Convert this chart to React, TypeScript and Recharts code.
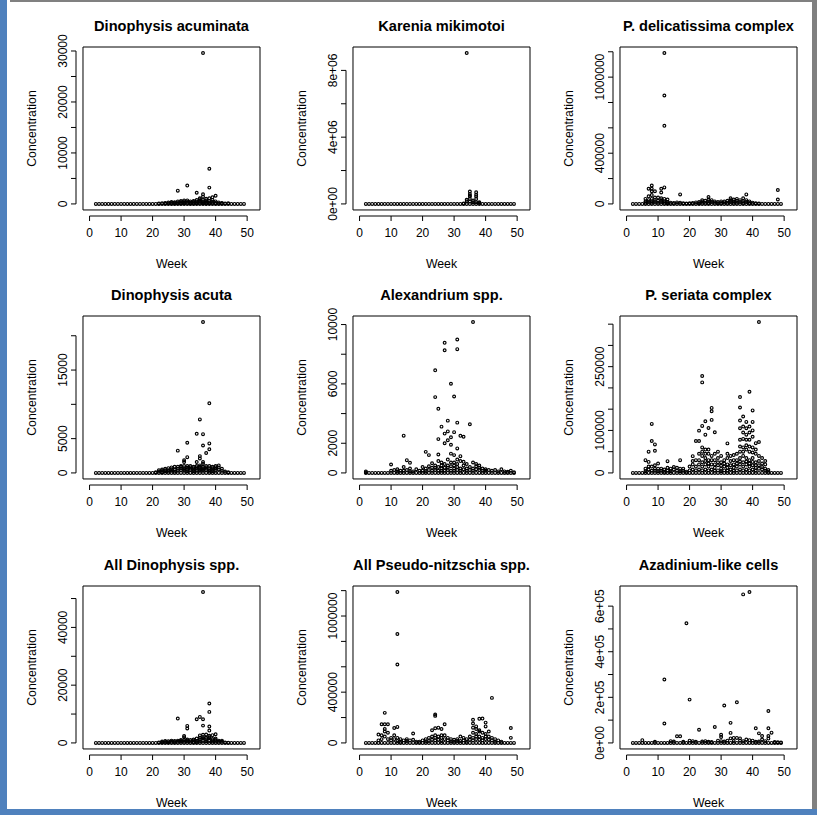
import React from "react";
import {
  ScatterChart,
  Scatter,
  XAxis,
  YAxis,
  ReferenceArea,
  ReferenceLine,
} from "recharts";

const FONT = "'Liberation Sans', Arial, sans-serif";

// every sampled week (2..49) has zero counts on record
const WEEKS = [
  2, 3, 4, 5, 6, 7, 8, 9, 10, 11, 12, 13, 14, 15, 16, 17, 18, 19, 20, 21, 22, 23, 24, 25,
  26, 27, 28, 29, 30, 31, 32, 33, 34, 35, 36, 37, 38, 39, 40, 41, 42, 43, 44, 45, 46, 47, 48, 49,
];
const X_TICKS = [0, 10, 20, 30, 40, 50];

const TITLES = [
  "Dinophysis acuminata",
  "Karenia mikimotoi",
  "P. delicatissima complex",
  "Dinophysis acuta",
  "Alexandrium spp.",
  "P. seriata complex",
  "All Dinophysis spp.",
  "All Pseudo-nitzschia spp.",
  "Azadinium-like cells",
];

const Y_TICKS = [
  [0, 5000, 10000, 15000, 20000, 25000, 30000],
  [0, 2e6, 4e6, 6e6, 8e6],
  [0, 200000, 400000, 600000, 800000, 1000000, 1200000],
  [0, 5000, 10000, 15000, 20000],
  [0, 2000, 4000, 6000, 8000, 10000],
  [0, 50000, 100000, 150000, 200000, 250000, 300000, 350000],
  [0, 10000, 20000, 30000, 40000, 50000],
  [0, 200000, 400000, 600000, 800000, 1000000, 1200000],
  [0, 1e5, 2e5, 3e5, 4e5, 5e5, 6e5],
];

// labels R kept after dropping the overlapping ones ("" = tick only)
const Y_LABELS = [
  ["0", "", "10000", "", "20000", "", "30000"],
  ["0e+00", "", "4e+06", "", "8e+06"],
  ["0", "", "400000", "", "", "1000000", ""],
  ["0", "5000", "", "15000", ""],
  ["0", "2000", "", "6000", "", "10000"],
  ["0", "", "100000", "", "", "250000", "", ""],
  ["0", "", "20000", "", "40000", ""],
  ["0", "", "400000", "", "", "1000000", ""],
  ["0e+00", "", "2e+05", "", "4e+05", "", "6e+05"],
];

// [week, concentration] for the non-zero samples
const acuminata: [number, number][] = [
  [36, 29600], [38, 6900], [38, 3200], [31, 3600], [28, 2600], [34, 2200], [36, 1900], [36, 1400],
  [40, 1600], [39, 1300], [38, 1100], [37, 1000], [35, 1100], [35, 900],
  [22, 100], [23, 150], [24, 200], [24, 80], [25, 300], [25, 150], [26, 250], [26, 400], [26, 100],
  [27, 200], [27, 350], [27, 100], [28, 300], [28, 500], [28, 150], [29, 400], [29, 200], [29, 600],
  [29, 100], [30, 300], [30, 500], [30, 150], [30, 700], [31, 400], [31, 700], [31, 200], [32, 300],
  [32, 500], [32, 200], [32, 100], [33, 400], [33, 600], [33, 250], [33, 100], [34, 500], [34, 800],
  [34, 300], [34, 150], [35, 600], [35, 400], [35, 200], [36, 800], [36, 500], [36, 300], [36, 150],
  [37, 700], [37, 400], [37, 250], [37, 100], [38, 600], [38, 300], [38, 150], [39, 800], [39, 400],
  [39, 200], [40, 500], [40, 200], [40, 100], [41, 300], [41, 100], [42, 200], [42, 80], [43, 100],
  [44, 150],
];

const karenia: [number, number][] = [
  [33, 30000], [34, 9040000], [34, 250000], [34, 150000], [35, 740000], [35, 600000], [35, 500000],
  [35, 440000], [35, 300000], [35, 150000], [36, 200000], [36, 100000], [37, 700000], [37, 550000],
  [37, 450000], [37, 300000], [37, 100000], [38, 100000], [38, 50000],
];

const delicatissima: [number, number][] = [
  [12, 1190000], [12, 855000], [12, 616000], [8, 145000], [8, 120000], [7, 120000], [11, 120000],
  [12, 130000], [9, 100000], [11, 90000], [17, 75000], [38, 75000], [48, 110000], [48, 35000],
  [26, 55000], [8, 100000], [8, 70000],
  [6, 20000], [6, 40000], [6, 10000], [7, 30000], [7, 60000], [7, 15000], [8, 40000], [8, 20000],
  [8, 10000], [9, 30000], [9, 15000], [9, 50000], [10, 50000], [10, 25000], [10, 10000], [11, 30000],
  [11, 15000], [11, 45000], [12, 40000], [12, 20000], [12, 10000], [13, 35000], [13, 15000],
  [13, 5000], [14, 10000], [15, 8000], [16, 12000], [17, 10000], [18, 5000], [19, 3000], [20, 5000],
  [21, 8000], [22, 12000], [23, 15000], [23, 5000], [24, 30000], [24, 20000], [24, 10000],
  [25, 25000], [25, 10000], [26, 35000], [26, 20000], [26, 8000], [27, 30000], [27, 15000],
  [28, 10000], [28, 20000], [29, 15000], [29, 5000], [30, 20000], [30, 8000], [31, 12000],
  [31, 20000], [32, 25000], [32, 10000], [33, 45000], [33, 30000], [33, 15000], [34, 20000],
  [34, 35000], [34, 10000], [35, 40000], [35, 25000], [35, 10000], [36, 30000], [36, 15000],
  [37, 45000], [37, 20000], [37, 8000], [38, 30000], [38, 15000], [39, 20000], [39, 8000],
  [40, 10000], [41, 5000], [42, 3000],
];

const acuta: [number, number][] = [
  [36, 22000], [38, 10150], [35, 7800], [34, 5700], [36, 5650], [36, 4000], [38, 4300], [38, 3450],
  [37, 2900], [31, 4400], [31, 2300], [28, 3250], [30, 1850], [30, 1600], [35, 2450], [35, 2100],
  [36, 1600], [36, 1350], [34, 1600],
  [21, 100], [22, 200], [22, 400], [23, 300], [23, 500], [23, 100], [24, 250], [24, 600], [24, 400],
  [25, 400], [25, 700], [25, 200], [26, 300], [26, 800], [26, 550], [27, 500], [27, 900], [27, 200],
  [28, 600], [28, 300], [28, 900], [29, 900], [29, 1000], [29, 400], [29, 650], [30, 700], [30, 300],
  [30, 1000], [30, 500], [31, 1000], [31, 500], [31, 750], [31, 250], [32, 800], [32, 400], [32, 600],
  [32, 1000], [33, 900], [33, 500], [33, 700], [33, 250], [34, 1000], [34, 600], [34, 300], [34, 800],
  [35, 900], [35, 500], [35, 700], [35, 300], [35, 1100], [36, 900], [36, 500], [36, 700], [36, 300],
  [37, 800], [37, 1000], [37, 400], [37, 600], [38, 700], [38, 1000], [38, 400], [38, 200],
  [39, 900], [39, 500], [39, 700], [39, 250], [40, 1000], [40, 600], [40, 300], [40, 800],
  [41, 1100], [41, 500], [41, 800], [42, 300], [42, 600], [43, 200], [44, 100],
];

const alexandrium: [number, number][] = [
  [36, 10170], [27, 8770], [27, 8270], [31, 8990], [31, 8340], [24, 6915], [29, 6010], [30, 5150],
  [24, 5110], [25, 4320], [28, 3525], [31, 3390], [35, 3280], [26, 3120], [14, 2510], [27, 2650],
  [28, 2800], [30, 2750], [27, 2000], [29, 2400], [28, 2200], [29, 1900], [25, 2280], [32, 2500],
  [33, 2440], [21, 1420], [22, 1200], [25, 1240], [29, 1300], [30, 1200], [31, 1650], [32, 1130],
  [10, 565], [15, 860], [16, 680], [23, 650], [25, 800], [26, 700], [27, 600], [30, 700], [32, 800],
  [34, 600], [36, 700], [37, 600], [38, 500], [28, 900], [29, 700], [31, 900], [33, 750],
  [2, 100], [2, 50], [10, 150], [11, 200], [12, 250], [12, 100], [13, 150], [14, 400], [14, 150],
  [15, 200], [16, 300], [16, 100], [17, 100], [18, 250], [19, 150], [20, 400], [20, 150], [21, 300],
  [21, 100], [22, 200], [22, 450], [23, 350], [23, 150], [24, 500], [24, 200], [24, 350], [25, 400],
  [25, 150], [26, 300], [26, 500], [26, 150], [27, 350], [27, 150], [28, 500], [28, 200], [28, 350],
  [29, 450], [29, 150], [30, 300], [30, 500], [30, 150], [31, 400], [31, 600], [31, 200], [32, 300],
  [32, 150], [33, 500], [33, 250], [34, 300], [34, 150], [35, 400], [35, 200], [36, 300], [36, 150],
  [37, 250], [37, 450], [38, 200], [38, 350], [39, 300], [39, 150], [40, 150], [40, 250], [41, 200],
  [42, 150], [43, 200], [44, 100], [45, 250], [46, 100], [47, 80], [48, 150], [49, 50],
];

const seriata: [number, number][] = [
  [42, 355000], [24, 228000], [24, 213000], [39, 191000], [36, 178500], [27, 153000], [27, 145000],
  [36, 154000], [40, 147000], [37, 132700], [25, 121600], [27, 124800], [36, 123200], [40, 120000],
  [24, 110600], [8, 115300], [26, 105800], [23, 99500], [25, 90000], [28, 95600], [37, 109000],
  [38, 105000], [39, 109000], [8, 75000], [9, 67100], [22, 75000], [23, 75000], [42, 72700],
  [32, 69500], [36, 78000], [37, 80000], [38, 78000], [39, 78000], [7, 50000], [9, 52000],
  [29, 50000], [24, 60000], [25, 55000], [26, 45000], [27, 40000], [6, 30000], [7, 26000],
  [9, 18000], [10, 22000], [13, 27600], [17, 30000], [21, 39500], [38, 90000], [39, 95000],
  [37, 95000], [40, 85000], [41, 70000], [40, 100000], [36, 105000], [38, 120000],
  [22, 30000], [23, 45000], [24, 40000], [24, 50000], [25, 35000], [25, 45000], [26, 30000],
  [26, 55000], [27, 30000], [28, 30000], [28, 45000], [29, 35000], [30, 25000], [30, 40000],
  [31, 30000], [32, 35000], [32, 45000], [33, 40000], [33, 28000], [34, 30000], [34, 42000],
  [35, 45000], [35, 30000], [36, 50000], [36, 35000], [36, 62000], [37, 60000], [37, 40000],
  [37, 50000], [38, 55000], [38, 35000], [38, 65000], [39, 50000], [39, 30000], [39, 62000],
  [40, 60000], [40, 35000], [40, 48000], [41, 45000], [41, 25000], [41, 55000], [42, 40000],
  [42, 28000], [43, 35000], [43, 22000], [44, 20000], [44, 28000],
  [6, 10000], [6, 4000], [7, 8000], [7, 15000], [8, 15000], [8, 5000], [9, 5000], [9, 10000],
  [10, 10000], [10, 4000], [11, 5000], [11, 10000], [12, 8000], [12, 3000], [13, 12000],
  [13, 5000], [14, 10000], [14, 4000], [15, 8000], [15, 14000], [16, 12000], [16, 5000],
  [17, 10000], [17, 4000], [18, 5000], [18, 10000], [19, 3000], [20, 15000], [20, 6000],
  [21, 20000], [21, 8000], [21, 28000], [22, 15000], [22, 6000], [23, 20000], [23, 8000],
  [23, 30000], [24, 15000], [24, 25000], [24, 6000], [25, 20000], [25, 8000], [25, 28000],
  [26, 15000], [26, 6000], [26, 22000], [27, 20000], [27, 8000], [28, 12000], [28, 20000],
  [28, 5000], [29, 18000], [29, 6000], [29, 25000], [30, 10000], [30, 17000], [30, 4000],
  [31, 15000], [31, 6000], [31, 22000], [32, 12000], [32, 20000], [32, 5000], [33, 18000],
  [33, 8000], [34, 12000], [34, 20000], [34, 5000], [35, 15000], [35, 22000], [35, 6000],
  [36, 20000], [36, 8000], [36, 27000], [37, 15000], [37, 25000], [37, 6000], [38, 20000],
  [38, 8000], [38, 27000], [39, 15000], [39, 22000], [39, 6000], [40, 18000], [40, 8000],
  [40, 26000], [41, 12000], [41, 5000], [41, 18000], [42, 10000], [42, 18000], [43, 8000],
  [43, 14000], [44, 5000], [44, 10000], [45, 3000], [45, 7000],
];

const allDinophysis: [number, number][] = [
  [36, 52250], [38, 13640], [38, 10750], [28, 8440], [35, 9000], [34, 8200], [36, 8200], [31, 5900],
  [31, 5000], [36, 6000], [38, 5660], [38, 4280], [30, 2430], [30, 1970], [35, 2600], [36, 2800],
  [37, 2900], [38, 2500], [39, 2700], [40, 3000],
  [22, 200], [23, 500], [23, 200], [24, 700], [24, 300], [25, 600], [25, 250], [26, 400], [26, 800],
  [27, 700], [27, 300], [28, 800], [28, 400], [29, 1000], [29, 400], [29, 700], [30, 900], [30, 400],
  [31, 1200], [31, 500], [31, 800], [32, 1000], [32, 500], [33, 800], [33, 300], [33, 1200],
  [34, 1500], [34, 700], [34, 300], [35, 1200], [35, 500], [35, 1800], [36, 1500], [36, 700],
  [36, 2000], [37, 1300], [37, 600], [37, 1800], [38, 1600], [38, 700], [38, 2000], [39, 1400],
  [39, 500], [39, 900], [40, 1000], [40, 500], [40, 1500], [41, 800], [41, 400], [42, 400],
  [42, 800], [43, 200], [44, 100],
];

const allPseudoNitzschia: [number, number][] = [
  [12, 1189000], [12, 858000], [12, 618000], [42, 355000], [8, 237000], [24, 224000], [24, 213000],
  [36, 182000], [36, 153000], [38, 190000], [39, 192000], [27, 147000], [7, 147000], [8, 147000],
  [9, 147000], [11, 118000], [12, 126000], [48, 118000], [48, 40000], [17, 74000], [6, 66000],
  [40, 160000], [37, 130000], [40, 130000], [41, 90000], [25, 120000], [26, 110000], [23, 100000],
  [24, 115000], [36, 120000], [37, 110000], [38, 100000],
  [6, 20000], [7, 60000], [7, 30000], [8, 90000], [8, 50000], [8, 110000], [9, 80000], [9, 30000],
  [10, 40000], [10, 20000], [11, 60000], [11, 30000], [12, 40000], [12, 15000], [13, 30000],
  [13, 10000], [14, 20000], [15, 15000], [15, 30000], [16, 20000], [17, 25000], [18, 10000],
  [19, 10000], [20, 20000], [21, 30000], [21, 12000], [22, 40000], [22, 15000], [23, 50000],
  [23, 25000], [24, 60000], [24, 20000], [24, 40000], [25, 50000], [25, 25000], [26, 40000],
  [26, 15000], [26, 60000], [27, 60000], [27, 30000], [28, 40000], [28, 20000], [29, 30000],
  [29, 12000], [30, 25000], [30, 10000], [31, 30000], [31, 15000], [32, 50000], [32, 15000],
  [33, 40000], [33, 20000], [34, 30000], [34, 10000], [35, 50000], [35, 25000], [36, 80000],
  [36, 40000], [36, 20000], [37, 70000], [37, 30000], [37, 50000], [38, 90000], [38, 50000],
  [38, 25000], [39, 80000], [39, 40000], [39, 20000], [40, 70000], [40, 30000], [40, 50000],
  [41, 50000], [41, 25000], [42, 40000], [42, 20000], [43, 30000], [43, 10000], [44, 20000],
  [45, 10000],
];

const azadinium: [number, number][] = [
  [37, 651500], [39, 661800], [19, 525000], [12, 278000], [12, 85000], [20, 190000], [31, 164000],
  [35, 178000], [45, 140000], [23, 58000], [28, 70000], [30, 36000], [30, 26000], [33, 88000],
  [33, 44000], [41, 64000], [42, 42000], [43, 30000], [45, 64000], [45, 30000], [45, 19000],
  [46, 45000], [16, 29000], [17, 29000], [5, 12000], [33, 20000], [34, 22000], [35, 22000],
  [36, 20000], [38, 15000], [39, 12000], [40, 10000], [43, 15000], [44, 8000],
  [9, 5000], [14, 8000], [15, 6000], [18, 5000], [20, 10000], [21, 8000], [22, 5000], [24, 6000],
  [25, 8000], [26, 5000], [27, 4000], [29, 10000], [30, 8000], [31, 6000], [32, 10000], [34, 8000],
  [36, 10000], [37, 8000], [41, 5000], [42, 6000], [47, 4000], [48, 3000], [49, 2000],
];

const POINTS = [
  acuminata, karenia, delicatissima, acuta, alexandrium, seriata,
  allDinophysis, allPseudoNitzschia, azadinium,
];

// panel placement on the page
const COL_X = [0, 270, 537];
const ROW_Y = [0, 269, 539];
const W = 268;
const H = 270;

// R pads the data range by 4%; the extra bit on the left/bottom leaves room
// for R's detached axis lines
const X_BOX: [number, number] = [-2.08, 54.08];
const X_DOMAIN: [number, number] = [-4.3, 54.08];

const Dot = (props: any) => (
  <circle cx={props.cx} cy={props.cy} r={1.4} fill="none" stroke="#000" strokeWidth={1.15} />
);

function Panel({ idx }: { idx: number }) {
  const pts = POINTS[idx];
  const data = [
    ...WEEKS.map((w) => ({ x: w, y: 0 })),
    ...pts.map(([w, v]) => ({ x: w, y: v })),
  ];
  const maxY = Math.max(...pts.map((p) => p[1]));
  const yBox: [number, number] = [-0.04 * maxY, 1.04 * maxY];
  const yDomain: [number, number] = [-0.08 * maxY, 1.04 * maxY];
  const ticks = Y_TICKS[idx];
  const labels = Y_LABELS[idx];

  const YTick = (p: any) => {
    const i = ticks.indexOf(p.payload.value);
    const label = labels[i];
    if (!label) return <g />;
    return (
      <text
        x={p.x}
        y={p.y}
        transform={`rotate(-90 ${p.x} ${p.y})`}
        textAnchor="middle"
        fontSize={12}
        fontFamily={FONT}
        fill="#000"
      >
        {label}
      </text>
    );
  };

  const XTick = (p: any) => (
    <text x={p.x} y={p.y} dy="0.71em" textAnchor="middle" fontSize={12} fontFamily={FONT} fill="#000">
      {p.payload.value}
    </text>
  );

  const col = idx % 3;
  const row = Math.floor(idx / 3);

  return (
    <div style={{ position: "absolute", left: COL_X[col], top: ROW_Y[row], width: W, height: H }}>
      <ScatterChart width={W} height={H} margin={{ top: 47, right: 8, bottom: 24, left: 36 }}>
        <XAxis
          type="number"
          dataKey="x"
          domain={X_DOMAIN}
          ticks={X_TICKS}
          allowDataOverflow
          axisLine={false}
          tickLine={{ stroke: "#000" }}
          tickSize={5}
          tickMargin={7}
          height={30}
          tick={XTick}
          interval={0}
        />
        <YAxis
          type="number"
          dataKey="y"
          domain={yDomain}
          ticks={ticks}
          allowDataOverflow
          axisLine={false}
          tickLine={{ stroke: "#000" }}
          tickSize={5}
          tickMargin={4}
          width={40}
          tick={YTick}
          interval={0}
        />
        <ReferenceArea
          x1={X_BOX[0]}
          x2={X_BOX[1]}
          y1={yBox[0]}
          y2={yBox[1]}
          fill="none"
          fillOpacity={0}
          stroke="#000"
          strokeWidth={1}
          ifOverflow="visible"
        />
        <ReferenceLine
          segment={[
            { x: 0, y: yDomain[0] },
            { x: 50, y: yDomain[0] },
          ]}
          stroke="#000"
          ifOverflow="visible"
        />
        <ReferenceLine
          segment={[
            { x: X_DOMAIN[0], y: ticks[0] },
            { x: X_DOMAIN[0], y: ticks[ticks.length - 1] },
          ]}
          stroke="#000"
          ifOverflow="visible"
        />
        <Scatter data={data} shape={Dot} isAnimationActive={false} />
      </ScatterChart>
      <svg
        width={W}
        height={H}
        style={{ position: "absolute", left: 0, top: 0, pointerEvents: "none" }}
      >
        <text x={171.5} y={31} textAnchor="middle" fontSize={14.6} fontWeight="bold" fontFamily={FONT}>
          {TITLES[idx]}
        </text>
        <text x={171.5} y={268} textAnchor="middle" fontSize={12.3} fontFamily={FONT}>
          Week
        </text>
        <text
          x={36}
          y={128.5}
          transform="rotate(-90 36 128.5)"
          textAnchor="middle"
          fontSize={12.3}
          fontFamily={FONT}
        >
          Concentration
        </text>
      </svg>
    </div>
  );
}

export default function App() {
  return (
    <div
      style={{
        position: "fixed",
        left: 0,
        top: 0,
        width: 817,
        height: 815,
        background: "#fff",
        overflow: "hidden",
      }}
    >
      {TITLES.map((_, i) => (
        <Panel key={i} idx={i} />
      ))}
      {/* window frame around the screenshot */}
      <div style={{ position: "absolute", left: 10, top: 0, width: 807, height: 2, background: "#808080" }} />
      <div style={{ position: "absolute", left: 812, top: 0, width: 5, height: 809, background: "#808080" }} />
      <div style={{ position: "absolute", left: 0, top: 0, width: 7, height: 815, background: "#4f81bd" }} />
      <div style={{ position: "absolute", left: 0, top: 809, width: 817, height: 6, background: "#4f81bd" }} />
    </div>
  );
}
